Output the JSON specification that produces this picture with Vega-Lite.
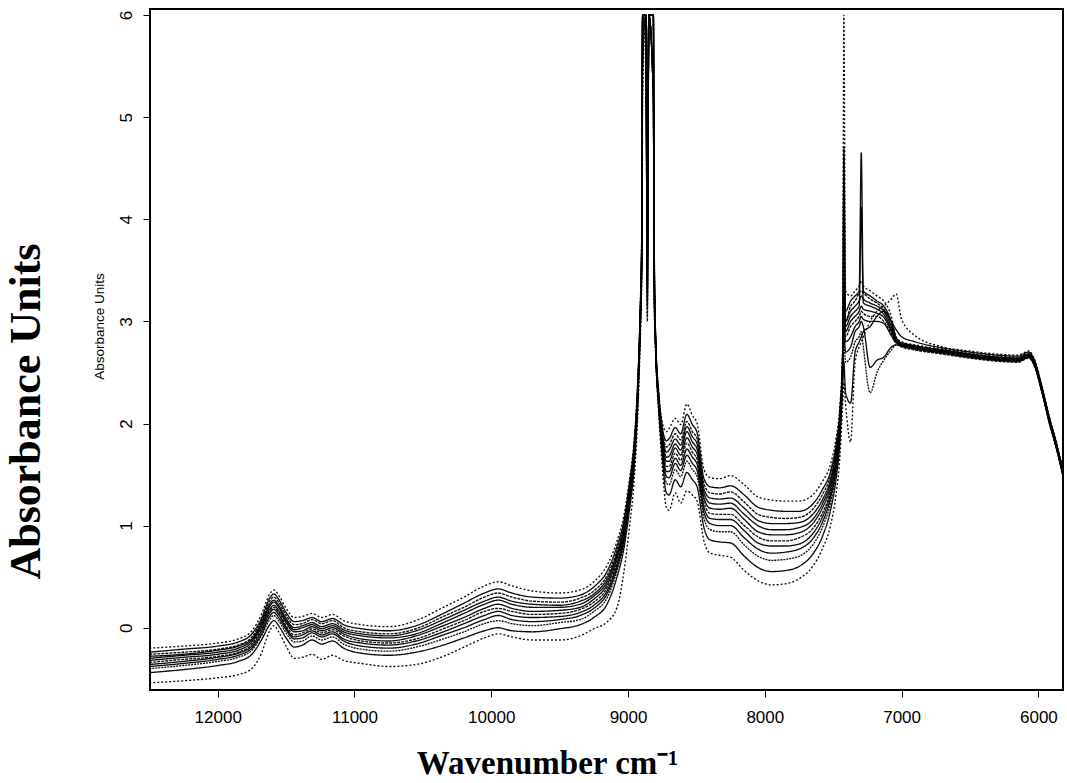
{
  "$schema": "https://vega.github.io/schema/vega-lite/v6.json",
  "width": 913,
  "height": 681,
  "autosize": {"type": "none"},
  "padding": {"left": 150, "top": 9, "right": 4, "bottom": 93},
  "background": "white",
  "config": {
    "view": {"stroke": "black", "strokeWidth": 2},
    "font": "Liberation Sans"
  },
  "title": {
    "text": "Absorbance Units",
    "orient": "left",
    "anchor": "middle",
    "frame": "bounds",
    "font": "Liberation Serif",
    "fontWeight": "bold",
    "fontSize": 44,
    "color": "black",
    "offset": 43,
    "dx": -17
  },
  "data": {
    "values": [
      {"s":1,"w":12500,"a":-0.20},{"s":2,"w":12500,"a":-0.24},{"s":3,"w":12500,"a":-0.26},{"s":4,"w":12500,"a":-0.28},{"s":5,"w":12500,"a":-0.30},{"s":6,"w":12500,"a":-0.32},{"s":7,"w":12500,"a":-0.34},{"s":8,"w":12500,"a":-0.36},{"s":9,"w":12500,"a":-0.38},{"s":10,"w":12500,"a":-0.40},{"s":11,"w":12500,"a":-0.44},{"s":12,"w":12500,"a":-0.54},
      {"s":1,"w":12250,"a":-0.18},{"s":2,"w":12250,"a":-0.21},{"s":3,"w":12250,"a":-0.24},{"s":4,"w":12250,"a":-0.26},{"s":5,"w":12250,"a":-0.27},{"s":6,"w":12250,"a":-0.29},{"s":7,"w":12250,"a":-0.31},{"s":8,"w":12250,"a":-0.33},{"s":9,"w":12250,"a":-0.35},{"s":10,"w":12250,"a":-0.37},{"s":11,"w":12250,"a":-0.41},{"s":12,"w":12250,"a":-0.52},
      {"s":1,"w":12000,"a":-0.15},{"s":2,"w":12000,"a":-0.18},{"s":3,"w":12000,"a":-0.21},{"s":4,"w":12000,"a":-0.22},{"s":5,"w":12000,"a":-0.24},{"s":6,"w":12000,"a":-0.26},{"s":7,"w":12000,"a":-0.28},{"s":8,"w":12000,"a":-0.29},{"s":9,"w":12000,"a":-0.31},{"s":10,"w":12000,"a":-0.33},{"s":11,"w":12000,"a":-0.37},{"s":12,"w":12000,"a":-0.49},
      {"s":1,"w":11850,"a":-0.11},{"s":2,"w":11850,"a":-0.14},{"s":3,"w":11850,"a":-0.17},{"s":4,"w":11850,"a":-0.18},{"s":5,"w":11850,"a":-0.20},{"s":6,"w":11850,"a":-0.22},{"s":7,"w":11850,"a":-0.24},{"s":8,"w":11850,"a":-0.25},{"s":9,"w":11850,"a":-0.27},{"s":10,"w":11850,"a":-0.29},{"s":11,"w":11850,"a":-0.33},{"s":12,"w":11850,"a":-0.46},
      {"s":1,"w":11750,"a":-0.03},{"s":2,"w":11750,"a":-0.06},{"s":3,"w":11750,"a":-0.09},{"s":4,"w":11750,"a":-0.11},{"s":5,"w":11750,"a":-0.12},{"s":6,"w":11750,"a":-0.14},{"s":7,"w":11750,"a":-0.16},{"s":8,"w":11750,"a":-0.18},{"s":9,"w":11750,"a":-0.20},{"s":10,"w":11750,"a":-0.22},{"s":11,"w":11750,"a":-0.26},{"s":12,"w":11750,"a":-0.40},
      {"s":1,"w":11680,"a":0.13},{"s":2,"w":11680,"a":0.09},{"s":3,"w":11680,"a":0.07},{"s":4,"w":11680,"a":0.05},{"s":5,"w":11680,"a":0.03},{"s":6,"w":11680,"a":0.01},{"s":7,"w":11680,"a":-0.01},{"s":8,"w":11680,"a":-0.03},{"s":9,"w":11680,"a":-0.06},{"s":10,"w":11680,"a":-0.08},{"s":11,"w":11680,"a":-0.12},{"s":12,"w":11680,"a":-0.25},
      {"s":1,"w":11620,"a":0.33},{"s":2,"w":11620,"a":0.29},{"s":3,"w":11620,"a":0.26},{"s":4,"w":11620,"a":0.23},{"s":5,"w":11620,"a":0.21},{"s":6,"w":11620,"a":0.18},{"s":7,"w":11620,"a":0.16},{"s":8,"w":11620,"a":0.14},{"s":9,"w":11620,"a":0.11},{"s":10,"w":11620,"a":0.08},{"s":11,"w":11620,"a":0.03},{"s":12,"w":11620,"a":-0.03},
      {"s":1,"w":11590,"a":0.37},{"s":2,"w":11590,"a":0.33},{"s":3,"w":11590,"a":0.30},{"s":4,"w":11590,"a":0.27},{"s":5,"w":11590,"a":0.25},{"s":6,"w":11590,"a":0.22},{"s":7,"w":11590,"a":0.20},{"s":8,"w":11590,"a":0.18},{"s":9,"w":11590,"a":0.15},{"s":10,"w":11590,"a":0.12},{"s":11,"w":11590,"a":0.07},{"s":12,"w":11590,"a":0.02},
      {"s":1,"w":11550,"a":0.31},{"s":2,"w":11550,"a":0.27},{"s":3,"w":11550,"a":0.24},{"s":4,"w":11550,"a":0.21},{"s":5,"w":11550,"a":0.19},{"s":6,"w":11550,"a":0.16},{"s":7,"w":11550,"a":0.14},{"s":8,"w":11550,"a":0.12},{"s":9,"w":11550,"a":0.09},{"s":10,"w":11550,"a":0.06},{"s":11,"w":11550,"a":0.01},{"s":12,"w":11550,"a":-0.05},
      {"s":1,"w":11500,"a":0.19},{"s":2,"w":11500,"a":0.15},{"s":3,"w":11500,"a":0.12},{"s":4,"w":11500,"a":0.09},{"s":5,"w":11500,"a":0.07},{"s":6,"w":11500,"a":0.05},{"s":7,"w":11500,"a":0.02},{"s":8,"w":11500,"a":0.00},{"s":9,"w":11500,"a":-0.02},{"s":10,"w":11500,"a":-0.05},{"s":11,"w":11500,"a":-0.10},{"s":12,"w":11500,"a":-0.18},
      {"s":1,"w":11440,"a":0.10},{"s":2,"w":11440,"a":0.06},{"s":3,"w":11440,"a":0.03},{"s":4,"w":11440,"a":0.00},{"s":5,"w":11440,"a":-0.02},{"s":6,"w":11440,"a":-0.04},{"s":7,"w":11440,"a":-0.07},{"s":8,"w":11440,"a":-0.09},{"s":9,"w":11440,"a":-0.11},{"s":10,"w":11440,"a":-0.14},{"s":11,"w":11440,"a":-0.19},{"s":12,"w":11440,"a":-0.30},
      {"s":1,"w":11380,"a":0.11},{"s":2,"w":11380,"a":0.07},{"s":3,"w":11380,"a":0.04},{"s":4,"w":11380,"a":0.02},{"s":5,"w":11380,"a":0.00},{"s":6,"w":11380,"a":-0.03},{"s":7,"w":11380,"a":-0.05},{"s":8,"w":11380,"a":-0.07},{"s":9,"w":11380,"a":-0.10},{"s":10,"w":11380,"a":-0.13},{"s":11,"w":11380,"a":-0.17},{"s":12,"w":11380,"a":-0.29},
      {"s":1,"w":11310,"a":0.14},{"s":2,"w":11310,"a":0.10},{"s":3,"w":11310,"a":0.08},{"s":4,"w":11310,"a":0.05},{"s":5,"w":11310,"a":0.03},{"s":6,"w":11310,"a":0.01},{"s":7,"w":11310,"a":-0.01},{"s":8,"w":11310,"a":-0.03},{"s":9,"w":11310,"a":-0.05},{"s":10,"w":11310,"a":-0.08},{"s":11,"w":11310,"a":-0.12},{"s":12,"w":11310,"a":-0.26},
      {"s":1,"w":11240,"a":0.10},{"s":2,"w":11240,"a":0.06},{"s":3,"w":11240,"a":0.04},{"s":4,"w":11240,"a":0.01},{"s":5,"w":11240,"a":-0.01},{"s":6,"w":11240,"a":-0.03},{"s":7,"w":11240,"a":-0.05},{"s":8,"w":11240,"a":-0.07},{"s":9,"w":11240,"a":-0.09},{"s":10,"w":11240,"a":-0.12},{"s":11,"w":11240,"a":-0.16},{"s":12,"w":11240,"a":-0.31},
      {"s":1,"w":11160,"a":0.13},{"s":2,"w":11160,"a":0.09},{"s":3,"w":11160,"a":0.07},{"s":4,"w":11160,"a":0.04},{"s":5,"w":11160,"a":0.02},{"s":6,"w":11160,"a":0.00},{"s":7,"w":11160,"a":-0.02},{"s":8,"w":11160,"a":-0.04},{"s":9,"w":11160,"a":-0.06},{"s":10,"w":11160,"a":-0.09},{"s":11,"w":11160,"a":-0.13},{"s":12,"w":11160,"a":-0.27},
      {"s":1,"w":11080,"a":0.07},{"s":2,"w":11080,"a":0.03},{"s":3,"w":11080,"a":0.00},{"s":4,"w":11080,"a":-0.02},{"s":5,"w":11080,"a":-0.04},{"s":6,"w":11080,"a":-0.06},{"s":7,"w":11080,"a":-0.08},{"s":8,"w":11080,"a":-0.11},{"s":9,"w":11080,"a":-0.13},{"s":10,"w":11080,"a":-0.16},{"s":11,"w":11080,"a":-0.20},{"s":12,"w":11080,"a":-0.32},
      {"s":1,"w":10950,"a":0.03},{"s":2,"w":10950,"a":-0.01},{"s":3,"w":10950,"a":-0.04},{"s":4,"w":10950,"a":-0.06},{"s":5,"w":10950,"a":-0.08},{"s":6,"w":10950,"a":-0.11},{"s":7,"w":10950,"a":-0.13},{"s":8,"w":10950,"a":-0.15},{"s":9,"w":10950,"a":-0.18},{"s":10,"w":10950,"a":-0.21},{"s":11,"w":10950,"a":-0.25},{"s":12,"w":10950,"a":-0.35},
      {"s":1,"w":10750,"a":0.01},{"s":2,"w":10750,"a":-0.03},{"s":3,"w":10750,"a":-0.06},{"s":4,"w":10750,"a":-0.08},{"s":5,"w":10750,"a":-0.10},{"s":6,"w":10750,"a":-0.13},{"s":7,"w":10750,"a":-0.15},{"s":8,"w":10750,"a":-0.17},{"s":9,"w":10750,"a":-0.20},{"s":10,"w":10750,"a":-0.23},{"s":11,"w":10750,"a":-0.27},{"s":12,"w":10750,"a":-0.38},
      {"s":1,"w":10550,"a":0.07},{"s":2,"w":10550,"a":0.02},{"s":3,"w":10550,"a":-0.01},{"s":4,"w":10550,"a":-0.03},{"s":5,"w":10550,"a":-0.06},{"s":6,"w":10550,"a":-0.08},{"s":7,"w":10550,"a":-0.11},{"s":8,"w":10550,"a":-0.13},{"s":9,"w":10550,"a":-0.16},{"s":10,"w":10550,"a":-0.19},{"s":11,"w":10550,"a":-0.24},{"s":12,"w":10550,"a":-0.36},
      {"s":1,"w":10350,"a":0.20},{"s":2,"w":10350,"a":0.14},{"s":3,"w":10350,"a":0.11},{"s":4,"w":10350,"a":0.08},{"s":5,"w":10350,"a":0.05},{"s":6,"w":10350,"a":0.02},{"s":7,"w":10350,"a":-0.01},{"s":8,"w":10350,"a":-0.04},{"s":9,"w":10350,"a":-0.07},{"s":10,"w":10350,"a":-0.11},{"s":11,"w":10350,"a":-0.17},{"s":12,"w":10350,"a":-0.28},
      {"s":1,"w":10200,"a":0.30},{"s":2,"w":10200,"a":0.24},{"s":3,"w":10200,"a":0.20},{"s":4,"w":10200,"a":0.17},{"s":5,"w":10200,"a":0.14},{"s":6,"w":10200,"a":0.10},{"s":7,"w":10200,"a":0.07},{"s":8,"w":10200,"a":0.04},{"s":9,"w":10200,"a":0.00},{"s":10,"w":10200,"a":-0.04},{"s":11,"w":10200,"a":-0.10},{"s":12,"w":10200,"a":-0.19},
      {"s":1,"w":10050,"a":0.41},{"s":2,"w":10050,"a":0.34},{"s":3,"w":10050,"a":0.30},{"s":4,"w":10050,"a":0.26},{"s":5,"w":10050,"a":0.23},{"s":6,"w":10050,"a":0.19},{"s":7,"w":10050,"a":0.16},{"s":8,"w":10050,"a":0.12},{"s":9,"w":10050,"a":0.08},{"s":10,"w":10050,"a":0.04},{"s":11,"w":10050,"a":-0.03},{"s":12,"w":10050,"a":-0.10},
      {"s":1,"w":9950,"a":0.45},{"s":2,"w":9950,"a":0.38},{"s":3,"w":9950,"a":0.34},{"s":4,"w":9950,"a":0.30},{"s":5,"w":9950,"a":0.27},{"s":6,"w":9950,"a":0.23},{"s":7,"w":9950,"a":0.19},{"s":8,"w":9950,"a":0.16},{"s":9,"w":9950,"a":0.12},{"s":10,"w":9950,"a":0.07},{"s":11,"w":9950,"a":0.00},{"s":12,"w":9950,"a":-0.06},
      {"s":1,"w":9850,"a":0.41},{"s":2,"w":9850,"a":0.34},{"s":3,"w":9850,"a":0.30},{"s":4,"w":9850,"a":0.26},{"s":5,"w":9850,"a":0.23},{"s":6,"w":9850,"a":0.19},{"s":7,"w":9850,"a":0.16},{"s":8,"w":9850,"a":0.12},{"s":9,"w":9850,"a":0.08},{"s":10,"w":9850,"a":0.04},{"s":11,"w":9850,"a":-0.03},{"s":12,"w":9850,"a":-0.09},
      {"s":1,"w":9700,"a":0.36},{"s":2,"w":9700,"a":0.30},{"s":3,"w":9700,"a":0.26},{"s":4,"w":9700,"a":0.23},{"s":5,"w":9700,"a":0.20},{"s":6,"w":9700,"a":0.16},{"s":7,"w":9700,"a":0.13},{"s":8,"w":9700,"a":0.10},{"s":9,"w":9700,"a":0.06},{"s":10,"w":9700,"a":0.02},{"s":11,"w":9700,"a":-0.04},{"s":12,"w":9700,"a":-0.12},
      {"s":1,"w":9500,"a":0.34},{"s":2,"w":9500,"a":0.29},{"s":3,"w":9500,"a":0.25},{"s":4,"w":9500,"a":0.22},{"s":5,"w":9500,"a":0.20},{"s":6,"w":9500,"a":0.17},{"s":7,"w":9500,"a":0.14},{"s":8,"w":9500,"a":0.11},{"s":9,"w":9500,"a":0.08},{"s":10,"w":9500,"a":0.05},{"s":11,"w":9500,"a":-0.01},{"s":12,"w":9500,"a":-0.12},
      {"s":1,"w":9350,"a":0.37},{"s":2,"w":9350,"a":0.32},{"s":3,"w":9350,"a":0.29},{"s":4,"w":9350,"a":0.26},{"s":5,"w":9350,"a":0.23},{"s":6,"w":9350,"a":0.20},{"s":7,"w":9350,"a":0.18},{"s":8,"w":9350,"a":0.15},{"s":9,"w":9350,"a":0.12},{"s":10,"w":9350,"a":0.08},{"s":11,"w":9350,"a":0.03},{"s":12,"w":9350,"a":-0.08},
      {"s":1,"w":9250,"a":0.45},{"s":2,"w":9250,"a":0.40},{"s":3,"w":9250,"a":0.36},{"s":4,"w":9250,"a":0.33},{"s":5,"w":9250,"a":0.31},{"s":6,"w":9250,"a":0.28},{"s":7,"w":9250,"a":0.25},{"s":8,"w":9250,"a":0.22},{"s":9,"w":9250,"a":0.19},{"s":10,"w":9250,"a":0.16},{"s":11,"w":9250,"a":0.10},{"s":12,"w":9250,"a":-0.01},
      {"s":1,"w":9150,"a":0.62},{"s":2,"w":9150,"a":0.56},{"s":3,"w":9150,"a":0.52},{"s":4,"w":9150,"a":0.49},{"s":5,"w":9150,"a":0.46},{"s":6,"w":9150,"a":0.43},{"s":7,"w":9150,"a":0.40},{"s":8,"w":9150,"a":0.37},{"s":9,"w":9150,"a":0.34},{"s":10,"w":9150,"a":0.30},{"s":11,"w":9150,"a":0.24},{"s":12,"w":9150,"a":0.06},
      {"s":1,"w":9080,"a":0.85},{"s":2,"w":9080,"a":0.80},{"s":3,"w":9080,"a":0.76},{"s":4,"w":9080,"a":0.73},{"s":5,"w":9080,"a":0.71},{"s":6,"w":9080,"a":0.68},{"s":7,"w":9080,"a":0.65},{"s":8,"w":9080,"a":0.62},{"s":9,"w":9080,"a":0.59},{"s":10,"w":9080,"a":0.56},{"s":11,"w":9080,"a":0.50},{"s":12,"w":9080,"a":0.20},
      {"s":1,"w":9030,"a":1.10},{"s":2,"w":9030,"a":1.05},{"s":3,"w":9030,"a":1.02},{"s":4,"w":9030,"a":0.99},{"s":5,"w":9030,"a":0.97},{"s":6,"w":9030,"a":0.94},{"s":7,"w":9030,"a":0.92},{"s":8,"w":9030,"a":0.89},{"s":9,"w":9030,"a":0.86},{"s":10,"w":9030,"a":0.83},{"s":11,"w":9030,"a":0.78},{"s":12,"w":9030,"a":0.55},
      {"s":1,"w":8990,"a":1.45},{"s":2,"w":8990,"a":1.41},{"s":3,"w":8990,"a":1.38},{"s":4,"w":8990,"a":1.35},{"s":5,"w":8990,"a":1.33},{"s":6,"w":8990,"a":1.30},{"s":7,"w":8990,"a":1.28},{"s":8,"w":8990,"a":1.26},{"s":9,"w":8990,"a":1.23},{"s":10,"w":8990,"a":1.20},{"s":11,"w":8990,"a":1.15},{"s":12,"w":8990,"a":0.98},
      {"s":1,"w":8955,"a":1.85},{"s":2,"w":8955,"a":1.81},{"s":3,"w":8955,"a":1.78},{"s":4,"w":8955,"a":1.76},{"s":5,"w":8955,"a":1.74},{"s":6,"w":8955,"a":1.72},{"s":7,"w":8955,"a":1.70},{"s":8,"w":8955,"a":1.67},{"s":9,"w":8955,"a":1.65},{"s":10,"w":8955,"a":1.62},{"s":11,"w":8955,"a":1.58},{"s":12,"w":8955,"a":1.45},
      {"s":1,"w":8930,"a":2.40},{"s":2,"w":8930,"a":2.36},{"s":3,"w":8930,"a":2.34},{"s":4,"w":8930,"a":2.32},{"s":5,"w":8930,"a":2.30},{"s":6,"w":8930,"a":2.28},{"s":7,"w":8930,"a":2.26},{"s":8,"w":8930,"a":2.24},{"s":9,"w":8930,"a":2.22},{"s":10,"w":8930,"a":2.19},{"s":11,"w":8930,"a":2.15},{"s":12,"w":8930,"a":2.05},
      {"s":1,"w":8912,"a":3.10},{"s":2,"w":8912,"a":3.06},{"s":3,"w":8912,"a":3.04},{"s":4,"w":8912,"a":3.02},{"s":5,"w":8912,"a":3.00},{"s":6,"w":8912,"a":2.98},{"s":7,"w":8912,"a":2.96},{"s":8,"w":8912,"a":2.94},{"s":9,"w":8912,"a":2.92},{"s":10,"w":8912,"a":2.89},{"s":11,"w":8912,"a":2.85},{"s":12,"w":8912,"a":2.75},
      {"s":1,"w":8900,"a":3.90},{"s":2,"w":8900,"a":3.84},{"s":3,"w":8900,"a":3.80},{"s":4,"w":8900,"a":3.77},{"s":5,"w":8900,"a":3.74},{"s":6,"w":8900,"a":3.70},{"s":7,"w":8900,"a":3.67},{"s":8,"w":8900,"a":3.64},{"s":9,"w":8900,"a":3.60},{"s":10,"w":8900,"a":3.56},{"s":11,"w":8900,"a":3.50},{"s":12,"w":8900,"a":3.40},
      {"s":1,"w":8893,"a":6.0},{"s":2,"w":8893,"a":6.0},{"s":3,"w":8893,"a":6.0},{"s":4,"w":8893,"a":6.0},{"s":5,"w":8893,"a":6.0},{"s":6,"w":8893,"a":6.0},{"s":7,"w":8893,"a":6.0},{"s":8,"w":8893,"a":6.0},{"s":9,"w":8893,"a":6.0},{"s":10,"w":8893,"a":5.8},{"s":11,"w":8893,"a":5.5},{"s":12,"w":8893,"a":5.2},
      {"s":1,"w":8870,"a":6.0},{"s":2,"w":8870,"a":6.0},{"s":3,"w":8870,"a":6.0},{"s":4,"w":8870,"a":6.0},{"s":5,"w":8870,"a":6.0},{"s":6,"w":8870,"a":6.0},{"s":7,"w":8870,"a":6.0},{"s":8,"w":8870,"a":6.0},{"s":9,"w":8870,"a":6.0},{"s":10,"w":8870,"a":6.0},{"s":11,"w":8870,"a":6.0},{"s":12,"w":8870,"a":6.0},
      {"s":1,"w":8859,"a":3.05},{"s":2,"w":8859,"a":3.20},{"s":3,"w":8859,"a":3.35},{"s":4,"w":8859,"a":3.50},{"s":5,"w":8859,"a":3.70},{"s":6,"w":8859,"a":3.90},{"s":7,"w":8859,"a":4.10},{"s":8,"w":8859,"a":4.30},{"s":9,"w":8859,"a":3.30},{"s":10,"w":8859,"a":3.15},{"s":11,"w":8859,"a":3.60},{"s":12,"w":8859,"a":3.00},
      {"s":1,"w":8848,"a":6.0},{"s":2,"w":8848,"a":6.0},{"s":3,"w":8848,"a":6.0},{"s":4,"w":8848,"a":6.0},{"s":5,"w":8848,"a":6.0},{"s":6,"w":8848,"a":6.0},{"s":7,"w":8848,"a":6.0},{"s":8,"w":8848,"a":6.0},{"s":9,"w":8848,"a":6.0},{"s":10,"w":8848,"a":6.0},{"s":11,"w":8848,"a":6.0},{"s":12,"w":8848,"a":6.0},
      {"s":1,"w":8815,"a":6.0},{"s":2,"w":8815,"a":6.0},{"s":3,"w":8815,"a":6.0},{"s":4,"w":8815,"a":6.0},{"s":5,"w":8815,"a":6.0},{"s":6,"w":8815,"a":6.0},{"s":7,"w":8815,"a":5.2},{"s":8,"w":8815,"a":5.2},{"s":9,"w":8815,"a":5.2},{"s":10,"w":8815,"a":5.2},{"s":11,"w":8815,"a":5.2},{"s":12,"w":8815,"a":5.2},
      {"s":1,"w":8808,"a":3.70},{"s":2,"w":8808,"a":3.65},{"s":3,"w":8808,"a":3.60},{"s":4,"w":8808,"a":3.55},{"s":5,"w":8808,"a":3.50},{"s":6,"w":8808,"a":3.45},{"s":7,"w":8808,"a":3.40},{"s":8,"w":8808,"a":3.35},{"s":9,"w":8808,"a":3.30},{"s":10,"w":8808,"a":3.25},{"s":11,"w":8808,"a":3.20},{"s":12,"w":8808,"a":3.15},
      {"s":1,"w":8798,"a":2.85},{"s":2,"w":8798,"a":2.83},{"s":3,"w":8798,"a":2.81},{"s":4,"w":8798,"a":2.80},{"s":5,"w":8798,"a":2.79},{"s":6,"w":8798,"a":2.78},{"s":7,"w":8798,"a":2.76},{"s":8,"w":8798,"a":2.75},{"s":9,"w":8798,"a":2.74},{"s":10,"w":8798,"a":2.72},{"s":11,"w":8798,"a":2.70},{"s":12,"w":8798,"a":2.66},
      {"s":1,"w":8776,"a":2.32},{"s":2,"w":8776,"a":2.29},{"s":3,"w":8776,"a":2.28},{"s":4,"w":8776,"a":2.26},{"s":5,"w":8776,"a":2.25},{"s":6,"w":8776,"a":2.24},{"s":7,"w":8776,"a":2.22},{"s":8,"w":8776,"a":2.21},{"s":9,"w":8776,"a":2.19},{"s":10,"w":8776,"a":2.18},{"s":11,"w":8776,"a":2.15},{"s":12,"w":8776,"a":2.10},
      {"s":1,"w":8750,"a":2.02},{"s":2,"w":8750,"a":1.97},{"s":3,"w":8750,"a":1.94},{"s":4,"w":8750,"a":1.91},{"s":5,"w":8750,"a":1.88},{"s":6,"w":8750,"a":1.85},{"s":7,"w":8750,"a":1.83},{"s":8,"w":8750,"a":1.80},{"s":9,"w":8750,"a":1.77},{"s":10,"w":8750,"a":1.73},{"s":11,"w":8750,"a":1.68},{"s":12,"w":8750,"a":1.58},
      {"s":1,"w":8720,"a":1.92},{"s":2,"w":8720,"a":1.83},{"s":3,"w":8720,"a":1.77},{"s":4,"w":8720,"a":1.72},{"s":5,"w":8720,"a":1.67},{"s":6,"w":8720,"a":1.63},{"s":7,"w":8720,"a":1.58},{"s":8,"w":8720,"a":1.53},{"s":9,"w":8720,"a":1.48},{"s":10,"w":8720,"a":1.42},{"s":11,"w":8720,"a":1.32},{"s":12,"w":8720,"a":1.18},
      {"s":1,"w":8700,"a":1.95},{"s":2,"w":8700,"a":1.85},{"s":3,"w":8700,"a":1.79},{"s":4,"w":8700,"a":1.74},{"s":5,"w":8700,"a":1.68},{"s":6,"w":8700,"a":1.63},{"s":7,"w":8700,"a":1.58},{"s":8,"w":8700,"a":1.53},{"s":9,"w":8700,"a":1.47},{"s":10,"w":8700,"a":1.40},{"s":11,"w":8700,"a":1.30},{"s":12,"w":8700,"a":1.15},
      {"s":1,"w":8655,"a":2.05},{"s":2,"w":8655,"a":1.96},{"s":3,"w":8655,"a":1.90},{"s":4,"w":8655,"a":1.85},{"s":5,"w":8655,"a":1.80},{"s":6,"w":8655,"a":1.76},{"s":7,"w":8655,"a":1.71},{"s":8,"w":8655,"a":1.66},{"s":9,"w":8655,"a":1.61},{"s":10,"w":8655,"a":1.55},{"s":11,"w":8655,"a":1.45},{"s":12,"w":8655,"a":1.32},
      {"s":1,"w":8615,"a":1.99},{"s":2,"w":8615,"a":1.90},{"s":3,"w":8615,"a":1.84},{"s":4,"w":8615,"a":1.79},{"s":5,"w":8615,"a":1.74},{"s":6,"w":8615,"a":1.69},{"s":7,"w":8615,"a":1.64},{"s":8,"w":8615,"a":1.59},{"s":9,"w":8615,"a":1.54},{"s":10,"w":8615,"a":1.48},{"s":11,"w":8615,"a":1.38},{"s":12,"w":8615,"a":1.22},
      {"s":1,"w":8570,"a":2.19},{"s":2,"w":8570,"a":2.09},{"s":3,"w":8570,"a":2.02},{"s":4,"w":8570,"a":1.97},{"s":5,"w":8570,"a":1.92},{"s":6,"w":8570,"a":1.86},{"s":7,"w":8570,"a":1.81},{"s":8,"w":8570,"a":1.75},{"s":9,"w":8570,"a":1.69},{"s":10,"w":8570,"a":1.63},{"s":11,"w":8570,"a":1.52},{"s":12,"w":8570,"a":1.34},
      {"s":1,"w":8530,"a":2.08},{"s":2,"w":8530,"a":1.99},{"s":3,"w":8530,"a":1.92},{"s":4,"w":8530,"a":1.87},{"s":5,"w":8530,"a":1.82},{"s":6,"w":8530,"a":1.77},{"s":7,"w":8530,"a":1.72},{"s":8,"w":8530,"a":1.67},{"s":9,"w":8530,"a":1.61},{"s":10,"w":8530,"a":1.55},{"s":11,"w":8530,"a":1.45},{"s":12,"w":8530,"a":1.30},
      {"s":1,"w":8495,"a":2.00},{"s":2,"w":8495,"a":1.91},{"s":3,"w":8495,"a":1.85},{"s":4,"w":8495,"a":1.80},{"s":5,"w":8495,"a":1.75},{"s":6,"w":8495,"a":1.70},{"s":7,"w":8495,"a":1.65},{"s":8,"w":8495,"a":1.60},{"s":9,"w":8495,"a":1.54},{"s":10,"w":8495,"a":1.48},{"s":11,"w":8495,"a":1.38},{"s":12,"w":8495,"a":1.24},
      {"s":1,"w":8445,"a":1.55},{"s":2,"w":8445,"a":1.46},{"s":3,"w":8445,"a":1.41},{"s":4,"w":8445,"a":1.36},{"s":5,"w":8445,"a":1.32},{"s":6,"w":8445,"a":1.27},{"s":7,"w":8445,"a":1.23},{"s":8,"w":8445,"a":1.18},{"s":9,"w":8445,"a":1.13},{"s":10,"w":8445,"a":1.07},{"s":11,"w":8445,"a":0.98},{"s":12,"w":8445,"a":0.85},
      {"s":1,"w":8400,"a":1.47},{"s":2,"w":8400,"a":1.38},{"s":3,"w":8400,"a":1.32},{"s":4,"w":8400,"a":1.27},{"s":5,"w":8400,"a":1.22},{"s":6,"w":8400,"a":1.17},{"s":7,"w":8400,"a":1.12},{"s":8,"w":8400,"a":1.07},{"s":9,"w":8400,"a":1.02},{"s":10,"w":8400,"a":0.96},{"s":11,"w":8400,"a":0.86},{"s":12,"w":8400,"a":0.73},
      {"s":1,"w":8330,"a":1.46},{"s":2,"w":8330,"a":1.37},{"s":3,"w":8330,"a":1.31},{"s":4,"w":8330,"a":1.26},{"s":5,"w":8330,"a":1.21},{"s":6,"w":8330,"a":1.16},{"s":7,"w":8330,"a":1.11},{"s":8,"w":8330,"a":1.06},{"s":9,"w":8330,"a":1.00},{"s":10,"w":8330,"a":0.94},{"s":11,"w":8330,"a":0.84},{"s":12,"w":8330,"a":0.71},
      {"s":1,"w":8250,"a":1.49},{"s":2,"w":8250,"a":1.39},{"s":3,"w":8250,"a":1.33},{"s":4,"w":8250,"a":1.27},{"s":5,"w":8250,"a":1.22},{"s":6,"w":8250,"a":1.17},{"s":7,"w":8250,"a":1.11},{"s":8,"w":8250,"a":1.06},{"s":9,"w":8250,"a":1.00},{"s":10,"w":8250,"a":0.94},{"s":11,"w":8250,"a":0.83},{"s":12,"w":8250,"a":0.69},
      {"s":1,"w":8150,"a":1.40},{"s":2,"w":8150,"a":1.30},{"s":3,"w":8150,"a":1.23},{"s":4,"w":8150,"a":1.17},{"s":5,"w":8150,"a":1.11},{"s":6,"w":8150,"a":1.06},{"s":7,"w":8150,"a":1.00},{"s":8,"w":8150,"a":0.95},{"s":9,"w":8150,"a":0.88},{"s":10,"w":8150,"a":0.81},{"s":11,"w":8150,"a":0.70},{"s":12,"w":8150,"a":0.56},
      {"s":1,"w":8050,"a":1.28},{"s":2,"w":8050,"a":1.18},{"s":3,"w":8050,"a":1.11},{"s":4,"w":8050,"a":1.05},{"s":5,"w":8050,"a":1.00},{"s":6,"w":8050,"a":0.94},{"s":7,"w":8050,"a":0.89},{"s":8,"w":8050,"a":0.83},{"s":9,"w":8050,"a":0.77},{"s":10,"w":8050,"a":0.70},{"s":11,"w":8050,"a":0.59},{"s":12,"w":8050,"a":0.46},
      {"s":1,"w":7950,"a":1.25},{"s":2,"w":7950,"a":1.15},{"s":3,"w":7950,"a":1.08},{"s":4,"w":7950,"a":1.02},{"s":5,"w":7950,"a":0.96},{"s":6,"w":7950,"a":0.91},{"s":7,"w":7950,"a":0.85},{"s":8,"w":7950,"a":0.80},{"s":9,"w":7950,"a":0.73},{"s":10,"w":7950,"a":0.66},{"s":11,"w":7950,"a":0.55},{"s":12,"w":7950,"a":0.42},
      {"s":1,"w":7850,"a":1.24},{"s":2,"w":7850,"a":1.14},{"s":3,"w":7850,"a":1.07},{"s":4,"w":7850,"a":1.02},{"s":5,"w":7850,"a":0.96},{"s":6,"w":7850,"a":0.91},{"s":7,"w":7850,"a":0.85},{"s":8,"w":7850,"a":0.80},{"s":9,"w":7850,"a":0.74},{"s":10,"w":7850,"a":0.67},{"s":11,"w":7850,"a":0.56},{"s":12,"w":7850,"a":0.43},
      {"s":1,"w":7750,"a":1.24},{"s":2,"w":7750,"a":1.14},{"s":3,"w":7750,"a":1.08},{"s":4,"w":7750,"a":1.03},{"s":5,"w":7750,"a":0.98},{"s":6,"w":7750,"a":0.93},{"s":7,"w":7750,"a":0.88},{"s":8,"w":7750,"a":0.82},{"s":9,"w":7750,"a":0.77},{"s":10,"w":7750,"a":0.70},{"s":11,"w":7750,"a":0.60},{"s":12,"w":7750,"a":0.48},
      {"s":1,"w":7650,"a":1.30},{"s":2,"w":7650,"a":1.21},{"s":3,"w":7650,"a":1.16},{"s":4,"w":7650,"a":1.11},{"s":5,"w":7650,"a":1.06},{"s":6,"w":7650,"a":1.02},{"s":7,"w":7650,"a":0.97},{"s":8,"w":7650,"a":0.92},{"s":9,"w":7650,"a":0.87},{"s":10,"w":7650,"a":0.81},{"s":11,"w":7650,"a":0.72},{"s":12,"w":7650,"a":0.60},
      {"s":1,"w":7580,"a":1.43},{"s":2,"w":7580,"a":1.35},{"s":3,"w":7580,"a":1.30},{"s":4,"w":7580,"a":1.25},{"s":5,"w":7580,"a":1.21},{"s":6,"w":7580,"a":1.17},{"s":7,"w":7580,"a":1.12},{"s":8,"w":7580,"a":1.08},{"s":9,"w":7580,"a":1.03},{"s":10,"w":7580,"a":0.98},{"s":11,"w":7580,"a":0.89},{"s":12,"w":7580,"a":0.77},
      {"s":1,"w":7520,"a":1.60},{"s":2,"w":7520,"a":1.53},{"s":3,"w":7520,"a":1.49},{"s":4,"w":7520,"a":1.45},{"s":5,"w":7520,"a":1.42},{"s":6,"w":7520,"a":1.38},{"s":7,"w":7520,"a":1.34},{"s":8,"w":7520,"a":1.31},{"s":9,"w":7520,"a":1.27},{"s":10,"w":7520,"a":1.22},{"s":11,"w":7520,"a":1.15},{"s":12,"w":7520,"a":1.00},
      {"s":1,"w":7480,"a":1.85},{"s":2,"w":7480,"a":1.79},{"s":3,"w":7480,"a":1.75},{"s":4,"w":7480,"a":1.72},{"s":5,"w":7480,"a":1.69},{"s":6,"w":7480,"a":1.65},{"s":7,"w":7480,"a":1.62},{"s":8,"w":7480,"a":1.59},{"s":9,"w":7480,"a":1.55},{"s":10,"w":7480,"a":1.51},{"s":11,"w":7480,"a":1.45},{"s":12,"w":7480,"a":1.30},
      {"s":1,"w":7450,"a":2.20},{"s":2,"w":7450,"a":2.15},{"s":3,"w":7450,"a":2.11},{"s":4,"w":7450,"a":2.08},{"s":5,"w":7450,"a":2.06},{"s":6,"w":7450,"a":2.03},{"s":7,"w":7450,"a":2.00},{"s":8,"w":7450,"a":1.97},{"s":9,"w":7450,"a":1.94},{"s":10,"w":7450,"a":1.91},{"s":11,"w":7450,"a":1.85},{"s":12,"w":7450,"a":1.70},
      {"s":1,"w":7432,"a":2.70},{"s":2,"w":7432,"a":2.65},{"s":3,"w":7432,"a":2.61},{"s":4,"w":7432,"a":2.58},{"s":5,"w":7432,"a":2.56},{"s":6,"w":7432,"a":2.53},{"s":7,"w":7432,"a":2.50},{"s":8,"w":7432,"a":2.47},{"s":9,"w":7432,"a":2.44},{"s":10,"w":7432,"a":2.41},{"s":11,"w":7432,"a":2.35},{"s":12,"w":7432,"a":2.15},
      {"s":1,"w":7422,"a":6.0},{"s":2,"w":7422,"a":3.40},{"s":3,"w":7422,"a":3.30},{"s":4,"w":7422,"a":4.70},{"s":5,"w":7422,"a":3.20},{"s":6,"w":7422,"a":4.40},{"s":7,"w":7422,"a":3.10},{"s":8,"w":7422,"a":3.00},{"s":9,"w":7422,"a":2.90},{"s":10,"w":7422,"a":2.80},{"s":11,"w":7422,"a":2.60},{"s":12,"w":7422,"a":2.40},
      {"s":1,"w":7410,"a":3.30},{"s":2,"w":7410,"a":3.10},{"s":3,"w":7410,"a":3.00},{"s":4,"w":7410,"a":3.00},{"s":5,"w":7410,"a":2.95},{"s":6,"w":7410,"a":2.90},{"s":7,"w":7410,"a":2.85},{"s":8,"w":7410,"a":2.80},{"s":9,"w":7410,"a":2.70},{"s":10,"w":7410,"a":2.60},{"s":11,"w":7410,"a":2.30},{"s":12,"w":7410,"a":2.20},
      {"s":1,"w":7373,"a":3.25},{"s":2,"w":7373,"a":3.20},{"s":3,"w":7373,"a":3.15},{"s":4,"w":7373,"a":3.10},{"s":5,"w":7373,"a":3.05},{"s":6,"w":7373,"a":3.00},{"s":7,"w":7373,"a":2.95},{"s":8,"w":7373,"a":2.85},{"s":9,"w":7373,"a":2.75},{"s":10,"w":7373,"a":2.65},{"s":11,"w":7373,"a":2.20},{"s":12,"w":7373,"a":1.82},
      {"s":1,"w":7340,"a":3.30},{"s":2,"w":7340,"a":3.25},{"s":3,"w":7340,"a":3.20},{"s":4,"w":7340,"a":3.15},{"s":5,"w":7340,"a":3.10},{"s":6,"w":7340,"a":3.05},{"s":7,"w":7340,"a":3.00},{"s":8,"w":7340,"a":2.95},{"s":9,"w":7340,"a":2.90},{"s":10,"w":7340,"a":2.80},{"s":11,"w":7340,"a":2.70},{"s":12,"w":7340,"a":2.60},
      {"s":1,"w":7310,"a":3.35},{"s":2,"w":7310,"a":3.30},{"s":3,"w":7310,"a":3.28},{"s":4,"w":7310,"a":3.20},{"s":5,"w":7310,"a":3.15},{"s":6,"w":7310,"a":3.10},{"s":7,"w":7310,"a":3.05},{"s":8,"w":7310,"a":3.00},{"s":9,"w":7310,"a":2.95},{"s":10,"w":7310,"a":2.85},{"s":11,"w":7310,"a":2.80},{"s":12,"w":7310,"a":2.75},
      {"s":1,"w":7295,"a":3.40},{"s":2,"w":7295,"a":4.65},{"s":3,"w":7295,"a":3.30},{"s":4,"w":7295,"a":3.25},{"s":5,"w":7295,"a":4.12},{"s":6,"w":7295,"a":3.15},{"s":7,"w":7295,"a":3.10},{"s":8,"w":7295,"a":3.05},{"s":9,"w":7295,"a":3.00},{"s":10,"w":7295,"a":2.90},{"s":11,"w":7295,"a":2.85},{"s":12,"w":7295,"a":2.80},
      {"s":1,"w":7280,"a":3.35},{"s":2,"w":7280,"a":3.30},{"s":3,"w":7280,"a":3.28},{"s":4,"w":7280,"a":3.22},{"s":5,"w":7280,"a":3.18},{"s":6,"w":7280,"a":3.12},{"s":7,"w":7280,"a":3.08},{"s":8,"w":7280,"a":3.02},{"s":9,"w":7280,"a":2.95},{"s":10,"w":7280,"a":2.75},{"s":11,"w":7280,"a":2.90},{"s":12,"w":7280,"a":2.85},
      {"s":1,"w":7230,"a":3.30},{"s":2,"w":7230,"a":3.25},{"s":3,"w":7230,"a":3.22},{"s":4,"w":7230,"a":3.18},{"s":5,"w":7230,"a":3.15},{"s":6,"w":7230,"a":3.10},{"s":7,"w":7230,"a":3.05},{"s":8,"w":7230,"a":3.00},{"s":9,"w":7230,"a":2.55},{"s":10,"w":7230,"a":2.30},{"s":11,"w":7230,"a":2.95},{"s":12,"w":7230,"a":3.00},
      {"s":1,"w":7180,"a":3.25},{"s":2,"w":7180,"a":3.20},{"s":3,"w":7180,"a":3.18},{"s":4,"w":7180,"a":3.15},{"s":5,"w":7180,"a":3.12},{"s":6,"w":7180,"a":3.08},{"s":7,"w":7180,"a":3.05},{"s":8,"w":7180,"a":3.00},{"s":9,"w":7180,"a":2.62},{"s":10,"w":7180,"a":2.50},{"s":11,"w":7180,"a":3.05},{"s":12,"w":7180,"a":3.10},
      {"s":1,"w":7130,"a":3.20},{"s":2,"w":7130,"a":3.15},{"s":3,"w":7130,"a":3.12},{"s":4,"w":7130,"a":3.10},{"s":5,"w":7130,"a":3.07},{"s":6,"w":7130,"a":3.04},{"s":7,"w":7130,"a":3.00},{"s":8,"w":7130,"a":2.98},{"s":9,"w":7130,"a":2.65},{"s":10,"w":7130,"a":2.62},{"s":11,"w":7130,"a":3.10},{"s":12,"w":7130,"a":3.15},
      {"s":1,"w":7075,"a":3.05},{"s":2,"w":7075,"a":3.00},{"s":3,"w":7075,"a":2.98},{"s":4,"w":7075,"a":2.95},{"s":5,"w":7075,"a":2.92},{"s":6,"w":7075,"a":2.90},{"s":7,"w":7075,"a":2.88},{"s":8,"w":7075,"a":2.86},{"s":9,"w":7075,"a":2.75},{"s":10,"w":7075,"a":2.72},{"s":11,"w":7075,"a":3.00},{"s":12,"w":7075,"a":3.22},
      {"s":1,"w":7040,"a":2.85},{"s":2,"w":7040,"a":2.84},{"s":3,"w":7040,"a":2.83},{"s":4,"w":7040,"a":2.82},{"s":5,"w":7040,"a":2.81},{"s":6,"w":7040,"a":2.80},{"s":7,"w":7040,"a":2.80},{"s":8,"w":7040,"a":2.79},{"s":9,"w":7040,"a":2.77},{"s":10,"w":7040,"a":2.77},{"s":11,"w":7040,"a":2.92},{"s":12,"w":7040,"a":3.27},
      {"s":1,"w":7000,"a":2.80},{"s":2,"w":7000,"a":2.79},{"s":3,"w":7000,"a":2.78},{"s":4,"w":7000,"a":2.77},{"s":5,"w":7000,"a":2.76},{"s":6,"w":7000,"a":2.79},{"s":7,"w":7000,"a":2.75},{"s":8,"w":7000,"a":2.78},{"s":9,"w":7000,"a":2.76},{"s":10,"w":7000,"a":2.77},{"s":11,"w":7000,"a":2.85},{"s":12,"w":7000,"a":3.02},
      {"s":1,"w":6900,"a":2.77},{"s":2,"w":6900,"a":2.76},{"s":3,"w":6900,"a":2.75},{"s":4,"w":6900,"a":2.74},{"s":5,"w":6900,"a":2.73},{"s":6,"w":6900,"a":2.76},{"s":7,"w":6900,"a":2.72},{"s":8,"w":6900,"a":2.75},{"s":9,"w":6900,"a":2.73},{"s":10,"w":6900,"a":2.74},{"s":11,"w":6900,"a":2.80},{"s":12,"w":6900,"a":2.86},
      {"s":1,"w":6700,"a":2.73},{"s":2,"w":6700,"a":2.72},{"s":3,"w":6700,"a":2.71},{"s":4,"w":6700,"a":2.70},{"s":5,"w":6700,"a":2.69},{"s":6,"w":6700,"a":2.72},{"s":7,"w":6700,"a":2.68},{"s":8,"w":6700,"a":2.71},{"s":9,"w":6700,"a":2.69},{"s":10,"w":6700,"a":2.70},{"s":11,"w":6700,"a":2.74},{"s":12,"w":6700,"a":2.75},
      {"s":1,"w":6500,"a":2.69},{"s":2,"w":6500,"a":2.68},{"s":3,"w":6500,"a":2.67},{"s":4,"w":6500,"a":2.66},{"s":5,"w":6500,"a":2.65},{"s":6,"w":6500,"a":2.68},{"s":7,"w":6500,"a":2.64},{"s":8,"w":6500,"a":2.67},{"s":9,"w":6500,"a":2.65},{"s":10,"w":6500,"a":2.66},{"s":11,"w":6500,"a":2.70},{"s":12,"w":6500,"a":2.71},
      {"s":1,"w":6300,"a":2.66},{"s":2,"w":6300,"a":2.65},{"s":3,"w":6300,"a":2.64},{"s":4,"w":6300,"a":2.63},{"s":5,"w":6300,"a":2.62},{"s":6,"w":6300,"a":2.65},{"s":7,"w":6300,"a":2.61},{"s":8,"w":6300,"a":2.64},{"s":9,"w":6300,"a":2.62},{"s":10,"w":6300,"a":2.63},{"s":11,"w":6300,"a":2.67},{"s":12,"w":6300,"a":2.68},
      {"s":1,"w":6150,"a":2.65},{"s":2,"w":6150,"a":2.64},{"s":3,"w":6150,"a":2.63},{"s":4,"w":6150,"a":2.62},{"s":5,"w":6150,"a":2.61},{"s":6,"w":6150,"a":2.64},{"s":7,"w":6150,"a":2.60},{"s":8,"w":6150,"a":2.63},{"s":9,"w":6150,"a":2.61},{"s":10,"w":6150,"a":2.62},{"s":11,"w":6150,"a":2.66},{"s":12,"w":6150,"a":2.67},
      {"s":1,"w":6070,"a":2.69},{"s":2,"w":6070,"a":2.68},{"s":3,"w":6070,"a":2.67},{"s":4,"w":6070,"a":2.66},{"s":5,"w":6070,"a":2.65},{"s":6,"w":6070,"a":2.68},{"s":7,"w":6070,"a":2.64},{"s":8,"w":6070,"a":2.67},{"s":9,"w":6070,"a":2.65},{"s":10,"w":6070,"a":2.66},{"s":11,"w":6070,"a":2.70},{"s":12,"w":6070,"a":2.71},
      {"s":1,"w":6035,"a":2.63},{"s":2,"w":6035,"a":2.62},{"s":3,"w":6035,"a":2.61},{"s":4,"w":6035,"a":2.60},{"s":5,"w":6035,"a":2.59},{"s":6,"w":6035,"a":2.62},{"s":7,"w":6035,"a":2.58},{"s":8,"w":6035,"a":2.61},{"s":9,"w":6035,"a":2.59},{"s":10,"w":6035,"a":2.60},{"s":11,"w":6035,"a":2.64},{"s":12,"w":6035,"a":2.65},
      {"s":1,"w":5970,"a":2.33},{"s":2,"w":5970,"a":2.32},{"s":3,"w":5970,"a":2.31},{"s":4,"w":5970,"a":2.30},{"s":5,"w":5970,"a":2.29},{"s":6,"w":5970,"a":2.32},{"s":7,"w":5970,"a":2.28},{"s":8,"w":5970,"a":2.31},{"s":9,"w":5970,"a":2.29},{"s":10,"w":5970,"a":2.30},{"s":11,"w":5970,"a":2.34},{"s":12,"w":5970,"a":2.35},
      {"s":1,"w":5920,"a":2.05},{"s":2,"w":5920,"a":2.04},{"s":3,"w":5920,"a":2.03},{"s":4,"w":5920,"a":2.02},{"s":5,"w":5920,"a":2.01},{"s":6,"w":5920,"a":2.04},{"s":7,"w":5920,"a":2.00},{"s":8,"w":5920,"a":2.03},{"s":9,"w":5920,"a":2.01},{"s":10,"w":5920,"a":2.02},{"s":11,"w":5920,"a":2.06},{"s":12,"w":5920,"a":2.07},
      {"s":1,"w":5870,"a":1.81},{"s":2,"w":5870,"a":1.80},{"s":3,"w":5870,"a":1.79},{"s":4,"w":5870,"a":1.78},{"s":5,"w":5870,"a":1.77},{"s":6,"w":5870,"a":1.80},{"s":7,"w":5870,"a":1.76},{"s":8,"w":5870,"a":1.79},{"s":9,"w":5870,"a":1.77},{"s":10,"w":5870,"a":1.78},{"s":11,"w":5870,"a":1.82},{"s":12,"w":5870,"a":1.83},
      {"s":1,"w":5820,"a":1.53},{"s":2,"w":5820,"a":1.52},{"s":3,"w":5820,"a":1.51},{"s":4,"w":5820,"a":1.50},{"s":5,"w":5820,"a":1.49},{"s":6,"w":5820,"a":1.52},{"s":7,"w":5820,"a":1.48},{"s":8,"w":5820,"a":1.51},{"s":9,"w":5820,"a":1.49},{"s":10,"w":5820,"a":1.50},{"s":11,"w":5820,"a":1.54},{"s":12,"w":5820,"a":1.55}
    ]
  },
  "mark": {"type": "line", "color": "#000000", "strokeWidth": 1.35, "opacity": 0.95, "clip": true, "interpolate": "monotone"},
  "encoding": {
    "x": {
      "field": "w",
      "type": "quantitative",
      "scale": {"domain": [5820, 12495], "reverse": true, "nice": false, "zero": false},
      "axis": {
        "values": [12000, 11000, 10000, 9000, 8000, 7000, 6000],
        "format": "d",
        "grid": false,
        "domain": false,
        "tickColor": "black",
        "tickSize": 7,
        "labelFont": "Liberation Sans",
        "labelFontSize": 17,
        "labelColor": "black",
        "labelPadding": 12,
        "title": "Wavenumber cm⁻¹",
        "titleFont": "Liberation Serif",
        "titleFontWeight": "bold",
        "titleFontSize": 33,
        "titleColor": "black",
        "titleAlign": "center",
        "titleBaseline": "alphabetic",
        "titleX": 397,
        "titleY": 83
      }
    },
    "y": {
      "field": "a",
      "type": "quantitative",
      "scale": {"domain": [-0.61, 6.06], "nice": false, "zero": false},
      "axis": {
        "values": [0, 1, 2, 3, 4, 5, 6],
        "grid": false,
        "domain": false,
        "tickColor": "black",
        "tickSize": 7,
        "labelFont": "Liberation Sans",
        "labelFontSize": 17,
        "labelColor": "black",
        "labelAngle": 270,
        "labelAlign": "center",
        "labelBaseline": "alphabetic",
        "labelPadding": 12,
        "title": "Absorbance Units",
        "titleFont": "Liberation Sans",
        "titleFontWeight": "normal",
        "titleFontSize": 13.5,
        "titleColor": "black",
        "titleAngle": 270,
        "titleAlign": "center",
        "titleBaseline": "alphabetic",
        "titleX": -47,
        "titleY": 317
      }
    },
    "detail": {"field": "s", "type": "nominal"},
    "strokeDash": {
      "field": "s",
      "type": "nominal",
      "legend": null,
      "scale": {
        "domain": [1, 2, 3, 4, 5, 6, 7, 8, 9, 10, 11, 12],
        "range": [[2, 2], [1, 0], [3, 1], [1, 0], [1, 0], [1, 0], [3, 1], [1, 0], [1, 0], [2, 1], [1, 0], [2, 2]]
      }
    }
  }
}
